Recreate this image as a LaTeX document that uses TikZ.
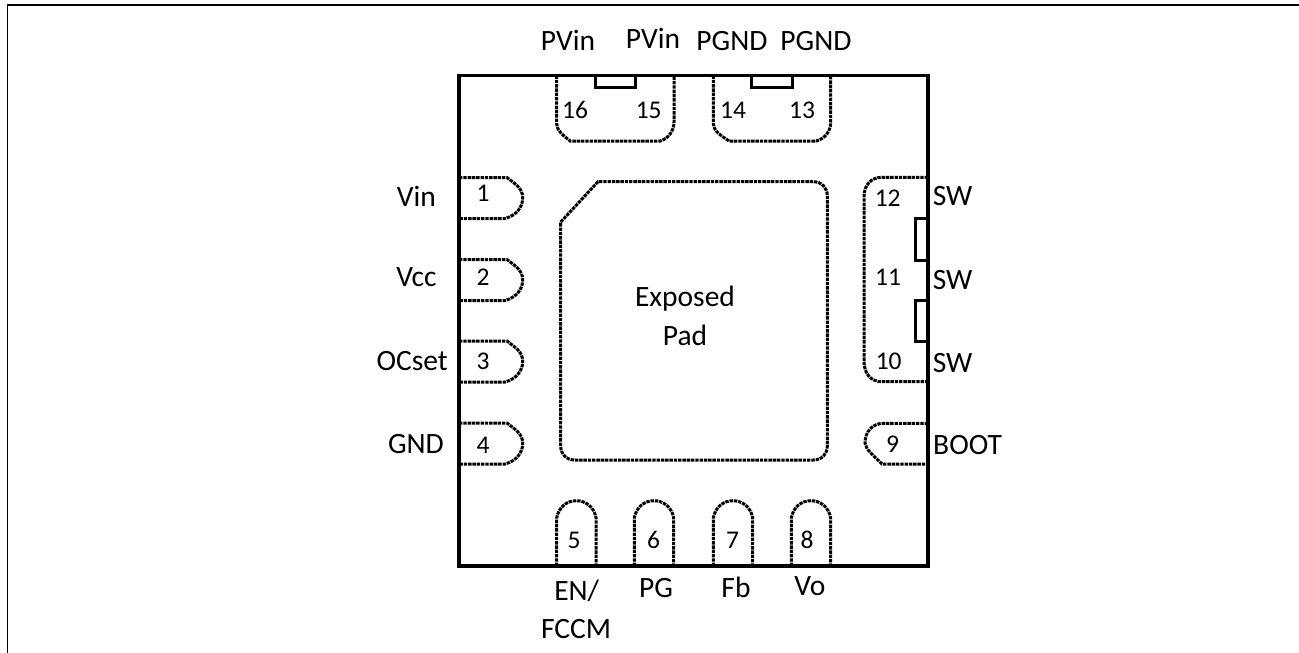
\documentclass[tikz,border=0pt]{standalone}
\usepackage{fontspec}
\setmainfont{Carlito}
\newcommand{\leftpin}[2]{\draw[pinline] (459,#1) -- (507,#1) .. controls (516,#1+7) and (522.7,#1+11) .. (522.7,#1+20.5) .. controls (522.7,#1+30) and (516,#1+38) .. (505,#1+41) -- (459,#1+41);}
\newcommand{\bottompin}[2]{\draw[pinline] (#1,566) -- (#1,518) .. controls (#1+2,507) and (#1+10,500.7) .. (#1+19.7,500.7) .. controls (#1+29,500.7) and (#1+37.5,507) .. (#1+39.4,518) -- (#1+39.4,566);}
\begin{document}
\begin{tikzpicture}[x=1pt,y=-1pt,
  pinline/.style={line width=3pt,dash pattern=on 3.4pt off 0.9pt,black},
  body/.style={line width=3.2pt,black},
  notch/.style={line width=3pt,black},
  pinlabel/.style={font=\fontsize{29.5}{29.5}\selectfont,inner sep=0pt,anchor=base},
  pinnum/.style={font=\fontsize{25.5}{25.5}\selectfont,inner sep=0pt,anchor=base},
]
\useasboundingbox (0,0) rectangle (1299,653);
\draw[line width=1.5pt] (7.5,653) -- (7.5,5) -- (1299,5);
% pins
\leftpin{177.5}{1}
\leftpin{259.5}{2}
\leftpin{341}{3}
\leftpin{423}{4}
\bottompin{556.7}{5}
\bottompin{634.3}{6}
\bottompin{713.3}{7}
\bottompin{791.3}{8}
\draw[pinline] (556.7,75.5) -- (556.7,124) .. controls (557,131) and (563,135) .. (570,141) -- (660,141) .. controls (668,139) and (674,131) .. (674,122) -- (674,75.5);
\draw[pinline] (713.3,75.5) -- (713.3,124) .. controls (714,131) and (720,135) .. (729,141) -- (816,141) .. controls (825,139) and (830.7,131) .. (830.7,122) -- (830.7,75.5);
\draw[pinline] (928,177.3) -- (882,177.3) .. controls (871,177.3) and (864,185) .. (864,197) -- (864,361) .. controls (864,374) and (871,381.7) .. (882,381.7) -- (928,381.7);
\draw[pinline] (928,423.3) -- (884,423.3) .. controls (872,423.3) and (865,432) .. (865,443) .. controls (866,450) and (873,455) .. (882,464) -- (928,464);
% exposed pad
\draw[pinline] (560.7,222) -- (598,181.7) -- (813,181.7) .. controls (822,181.7) and (827.3,188) .. (827.3,196) -- (827.3,446) .. controls (827.3,454) and (822,460) .. (813,460) -- (575,460) .. controls (566,460) and (560.7,454) .. (560.7,446) -- cycle;
% notches
\draw[notch] (595.7,75.5) -- (595.7,87.5) -- (635,87.5) -- (635,75.5);
\draw[notch] (751.7,75.5) -- (751.7,87.5) -- (792.3,87.5) -- (792.3,75.5);
\draw[notch] (928,218) -- (915.7,218) -- (915.7,260) -- (928,260);
\draw[notch] (928,300) -- (915.7,300) -- (915.7,341.7) -- (928,341.7);
% package
\draw[body] (459,75.5) rectangle (928,566);
% numbers
\node[pinnum] (n1) at (483,201.7) {1};
\node[pinnum] (n2) at (483,285) {2};
\node[pinnum] (n3) at (483,369) {3};
\node[pinnum] (n4) at (483,453) {4};
\node[pinnum] (n5) at (574,548) {5};
\node[pinnum] (n6) at (653.7,548) {6};
\node[pinnum] (n7) at (732.7,548) {7};
\node[pinnum] (n8) at (807,548) {8};
\node[pinnum] (n9) at (892.7,452.7) {9};
\node[pinnum] (n10) at (888.7,369) {10};
\node[pinnum] (n11) at (888,285) {11};
\node[pinnum] (n12) at (887.7,206.7) {12};
\node[pinnum] (n13) at (802,118) {13};
\node[pinnum] (n14) at (733,118) {14};
\node[pinnum] (n15) at (648.7,118) {15};
\node[pinnum] (n16) at (575,118) {16};
% labels
\node[pinlabel] (l16) at (568,50) {PVin};
\node[pinlabel] (l15) at (653,48) {PVin};
\node[pinlabel] (l14) at (732,50) {PGND};
\node[pinlabel] (l13) at (816,50) {PGND};
\node[pinlabel,anchor=base east] (l1) at (436,206) {Vin};
\node[pinlabel,anchor=base east] (l2) at (436.7,286.7) {Vcc};
\node[pinlabel,anchor=base east] (l3) at (448,370) {OCset};
\node[pinlabel,anchor=base east] (l4) at (444,453) {GND};
\node[pinlabel,anchor=base west] (l12) at (932.7,205.7) {SW};
\node[pinlabel,anchor=base west] (l11) at (932.7,289) {SW};
\node[pinlabel,anchor=base west] (l10) at (932.7,372.7) {SW};
\node[pinlabel,anchor=base west] (l9) at (933,454) {BOOT};
\node[pinlabel] (l5a) at (576.7,600) {EN/};
\node[pinlabel] (l5b) at (576,638) {FCCM};
\node[pinlabel] (l6) at (656,597.7) {PG};
\node[pinlabel] (l7) at (736,597.7) {Fb};
\node[pinlabel] (l8) at (810,595) {Vo};
\node[pinlabel] (ep1) at (685,306) {Exposed};
\node[pinlabel] (ep2) at (685,345) {Pad};
\end{tikzpicture}
\end{document}
